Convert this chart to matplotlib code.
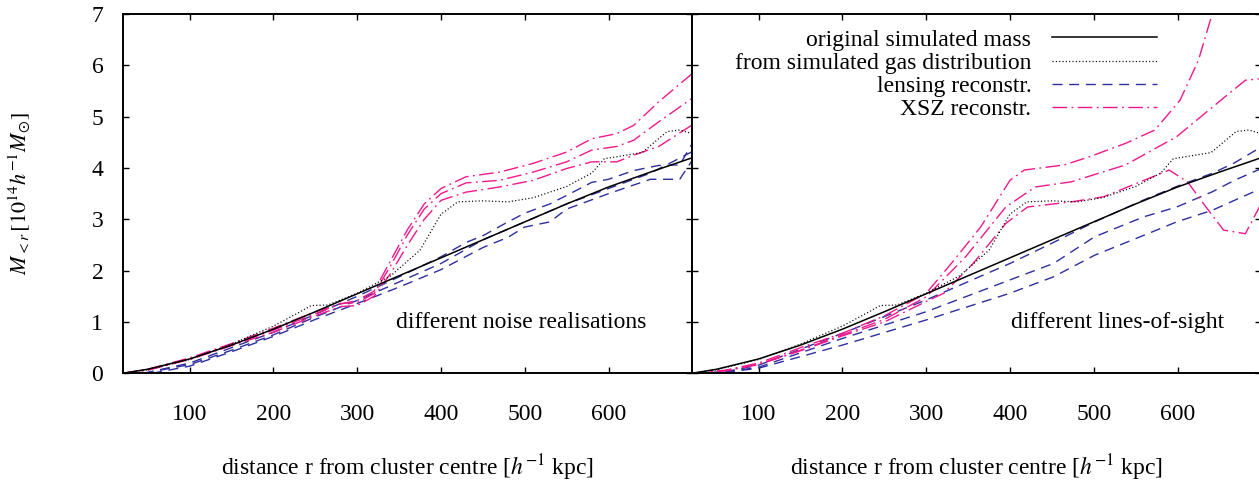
import numpy as np
import matplotlib
matplotlib.use("Agg")
import matplotlib.pyplot as plt

plt.rcParams["font.family"] = ["Liberation Serif", "DejaVu Serif"]
plt.rcParams["mathtext.fontset"] = "stix"
plt.rcParams["lines.scale_dashes"] = False

# original simulated mass (same in both panels)
r_true = [20, 50, 100, 150, 200, 250, 300, 350, 400, 450, 500, 550, 600, 650, 700]
m_true = [0, 0.08, 0.28, 0.55, 0.86, 1.2, 1.55, 1.9, 2.25, 2.6, 2.95, 3.3, 3.63, 3.92, 4.2]

# from simulated gas distribution (same in both panels)
r_gas = [20, 50, 100, 150, 200, 232, 245, 265, 300, 340, 375, 400, 420, 450, 480, 510, 550, 580, 595, 610, 640, 670, 685, 700]
m_gas = [0, 0.07, 0.27, 0.57, 0.92, 1.2, 1.32, 1.33, 1.56, 1.9, 2.4, 3.1, 3.34, 3.36, 3.34, 3.42, 3.64, 3.9, 4.18, 4.22, 4.3, 4.71, 4.74, 4.67]

# left panel: different noise realisations
r_lens_noise = [
    [45, 100, 150, 200, 250, 300, 350, 400, 430, 450, 480, 500, 530, 560, 580, 600, 630, 660, 685, 700],
    [45, 100, 150, 200, 250, 300, 350, 400, 450, 500, 550, 600, 650, 680, 700],
    [55, 100, 150, 200, 250, 300, 350, 400, 450, 480, 500, 530, 550, 600, 650, 685, 700],
]
m_lens_noise = [
    [0, 0.2, 0.5, 0.8, 1.15, 1.5, 1.88, 2.27, 2.55, 2.68, 2.95, 3.12, 3.3, 3.55, 3.72, 3.78, 3.95, 4.05, 4.06, 4.48],
    [0, 0.17, 0.45, 0.75, 1.1, 1.42, 1.78, 2.14, 2.6, 2.95, 3.3, 3.6, 3.9, 4.15, 4.32],
    [0, 0.14, 0.42, 0.72, 1.05, 1.36, 1.68, 2.02, 2.45, 2.65, 2.85, 2.95, 3.2, 3.5, 3.78, 3.78, 4.15],
]
r_xsz_noise = [20, 50, 100, 150, 200, 250, 280, 300, 320, 340, 360, 380, 400, 430, 470, 510, 550, 580, 610, 630, 660, 700]
m_xsz_noise = [
    [0, 0.08, 0.3, 0.58, 0.88, 1.2, 1.35, 1.42, 1.6, 2.2, 2.8, 3.3, 3.6, 3.83, 3.92, 4.09, 4.31, 4.57, 4.67, 4.83, 5.29, 5.84],
    [0, 0.07, 0.28, 0.56, 0.84, 1.16, 1.36, 1.38, 1.55, 2.1, 2.7, 3.2, 3.5, 3.71, 3.76, 3.92, 4.12, 4.35, 4.42, 4.54, 4.9, 5.36],
    [0, 0.06, 0.27, 0.54, 0.8, 1.12, 1.3, 1.32, 1.5, 1.95, 2.5, 3.0, 3.37, 3.53, 3.63, 3.76, 3.99, 4.12, 4.12, 4.25, 4.42, 4.84],
]

# right panel: different lines-of-sight
r_lens_los = [20, 60, 100, 200, 300, 400, 452, 501, 560, 599, 642, 668, 700]
m_lens_los = [
    [0, 0.03, 0.16, 0.78, 1.43, 2.14, 2.55, 2.95, 3.38, 3.64, 3.9, 4.1, 4.41],
    [0, 0.02, 0.12, 0.68, 1.2, 1.82, 2.14, 2.66, 3.05, 3.24, 3.54, 3.76, 3.99],
    [0, 0.02, 0.1, 0.55, 1.04, 1.56, 1.88, 2.3, 2.69, 2.95, 3.18, 3.37, 3.6],
]
r_xsz_los = [
    [20, 60, 100, 150, 200, 250, 300, 330, 365, 400, 417, 465, 495, 538, 573, 603, 625, 645],
    [20, 60, 100, 150, 200, 250, 300, 347, 395, 430, 473, 538, 599, 642, 681, 700],
    [20, 60, 100, 150, 200, 250, 300, 321, 356, 395, 421, 473, 512, 560, 590, 612, 634, 655, 681, 700],
]
m_xsz_los = [
    [0, 0.06, 0.2, 0.5, 0.78, 1.12, 1.56, 2.14, 2.85, 3.76, 3.96, 4.06, 4.22, 4.48, 4.74, 5.32, 6.1, 7.2],
    [0, 0.05, 0.18, 0.45, 0.75, 1.05, 1.49, 2.27, 3.24, 3.63, 3.73, 4.06, 4.61, 5.19, 5.71, 5.74],
    [0, 0.05, 0.17, 0.44, 0.73, 1.0, 1.4, 1.56, 2.14, 2.92, 3.24, 3.34, 3.44, 3.76, 3.96, 3.73, 3.24, 2.79, 2.72, 3.31],
]

labels = ["original simulated mass", "from simulated gas distribution", "lensing reconstr.", "XSZ reconstr."]
panel_notes = ["different noise realisations", "different lines-of-sight"]
xticks = [100, 200, 300, 400, 500, 600]
yticks = [0, 1, 2, 3, 4, 5, 6, 7]

blue = "#2e2e9e"
pink = "#f0188c"
dash = (0, (7.2, 4.8))
dashdot = (0, (10.5, 3.2, 1.3, 3.2))
dots = (0, (0.8, 1.6))
fs = 17

fig = plt.figure(figsize=(12.59, 4.83), dpi=100)
ax_l = fig.add_axes([0.09746, 0.2271, 0.4524, 0.7439])
ax_r = fig.add_axes([0.5494, 0.2271, 0.4524, 0.7439])

lens_sets = [(r_lens_noise, m_lens_noise), ([r_lens_los] * 3, m_lens_los)]
xsz_sets = [([r_xsz_noise] * 3, m_xsz_noise), (r_xsz_los, m_xsz_los)]

for i, ax in enumerate([ax_l, ax_r]):
    ax.plot(r_true, m_true, color="black", lw=1.1, label=labels[0], zorder=5)
    ax.plot(r_gas, m_gas, color="black", lw=0.9, linestyle=dots, label=labels[1], zorder=4)
    for k, (r, m) in enumerate(zip(*lens_sets[i])):
        ax.plot(r, m, color=blue, lw=1.0, linestyle=dash, label=labels[2] if k == 0 else None)
    for k, (r, m) in enumerate(zip(*xsz_sets[i])):
        ax.plot(r, m, color=pink, lw=1.0, linestyle=dashdot, label=labels[3] if k == 0 else None)

    ax.set_xlim(20, 700)
    ax.set_ylim(0, 7)
    ax.set_xticks(xticks)
    ax.set_yticks(yticks)
    ax.tick_params(direction="in", length=4.5, width=1.0, top=True, right=True,
                   labelsize=fs, colors="black")
    ax.tick_params(axis="x", pad=22)
    ax.tick_params(axis="y", pad=14)
    for sp in ax.spines.values():
        sp.set_linewidth(1.4)
    ax.set_xlabel(r"distance r from cluster centre [$h^{-1}$ kpc]", fontsize=fs, labelpad=20)
    ax.text(0.92 if i == 0 else 0.9345, 0.125, panel_notes[i], transform=ax.transAxes,
            ha="right", va="baseline", fontsize=fs)

ax_r.set_yticklabels([])
ax_l.set_ylabel(r"$M_{<r}\,[10^{14}h^{-1}M_{\odot}]$", fontsize=16)
ax_l.yaxis.set_label_coords(-0.157, 0.5)

ax_r.legend(loc="upper right", bbox_to_anchor=(0.8164, 0.958), frameon=False, fontsize=fs,
            markerfirst=False, handlelength=4.45, handletextpad=0.86, labelspacing=0.07,
            borderpad=0, borderaxespad=0)

fig.savefig("out.png", dpi=100)
